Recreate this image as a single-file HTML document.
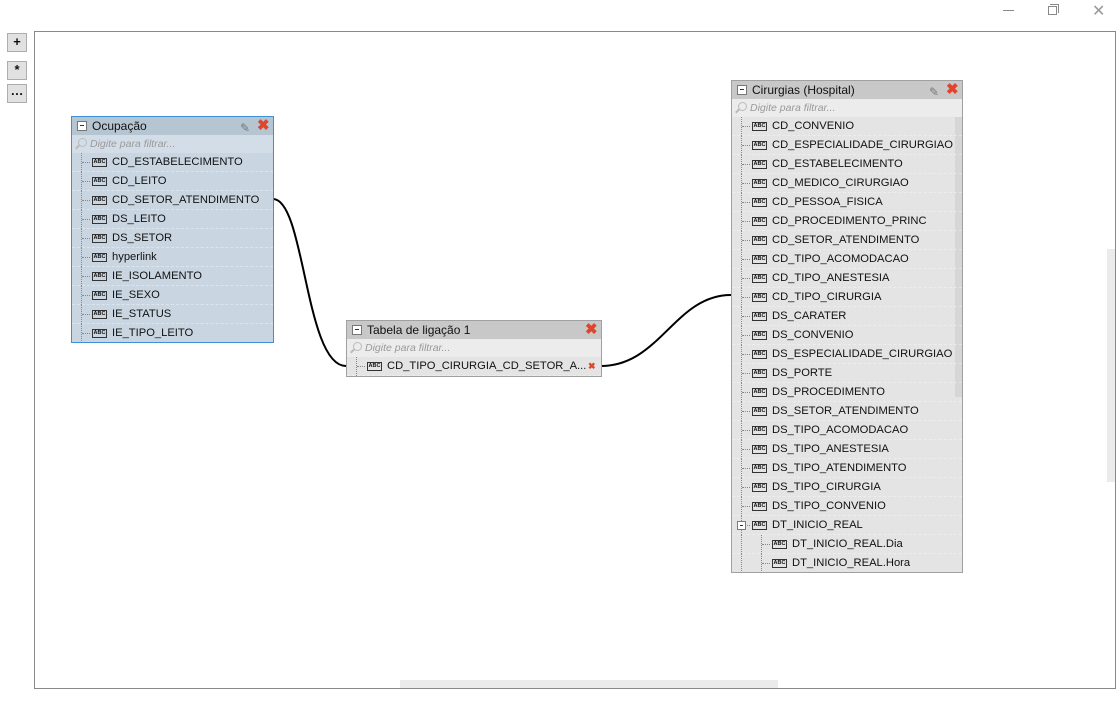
<!DOCTYPE html>
<html><head><meta charset="utf-8">
<style>
*{margin:0;padding:0;box-sizing:border-box}
body{width:1120px;height:725px;background:#fff;position:relative;overflow:hidden;font-family:"Liberation Sans",sans-serif;font-size:11px;color:#111}
.abs{position:absolute}
.btn{position:absolute;left:7px;width:20px;height:19px;border:1px solid #adadad;background:#e1e1e1;font-size:13px;text-align:center;line-height:16px;font-weight:bold}
.box{position:absolute;border:1px solid #a0a0a0;background:#e4e4e4;overflow:hidden}
.hdr{height:18px;background:#c8c8c8;position:relative;font-size:12px;line-height:18px;padding-left:20px}
.hdr .mn{position:absolute;left:5px;top:4px;width:10px;height:10px;border:1px solid #777;background:#fff}
.hdr .mn:after{content:"";position:absolute;left:2px;top:3px;width:4px;height:1px;background:#333}
.x{position:absolute;top:1px;color:#e0442a;font-weight:bold;font-size:15px;line-height:15px}
.pen{position:absolute;top:2px;color:#777;font-size:12px}
.flt{height:18px;background:#ececec;font-style:italic;color:#999;font-size:10.5px;line-height:18px;padding-left:18px;position:relative}
.flt:before{content:"";position:absolute;left:6px;top:3px;width:7px;height:7px;border:1.5px solid #bbb;border-radius:50%}
.flt:after{content:"";position:absolute;left:3px;top:11px;width:5px;height:2px;background:#bbb;transform:rotate(-45deg)}
.row{height:19px;position:relative;line-height:18px;border-bottom:1px dashed rgba(255,255,255,.35);padding-left:40px;white-space:nowrap;font-size:11.2px}
.row:before{content:"";position:absolute;left:9px;top:0;height:19px;border-left:1px dotted #888}
.row i{position:absolute;left:10px;top:9px;width:8px;border-top:1px dotted #888}
.row b{position:absolute;left:20px;top:5px;width:15px;height:9px;border:1px solid #333;font-size:5.5px;line-height:7px;text-align:center;font-weight:bold;font-style:normal}
.occ{background:#c9d6e2;border-color:#3d8fd8}
.occ .hdr{background:#b6c5d2}
.occ .flt{background:#d3dde7}
.sub{padding-left:60px}
.sub i{left:30px}
.sub b{left:40px}
.sub:after{content:"";position:absolute;left:29px;top:0;height:19px;border-left:1px dotted #888}
</style></head><body>
<div class="abs" style="left:1003px;top:10px;width:11px;border-top:1px solid #888"></div>
<div class="abs" style="left:1048px;top:6px;width:9px;height:9px;border:1px solid #888"></div>
<div class="abs" style="left:1050px;top:4px;width:9px;height:9px;border-top:1px solid #888;border-right:1px solid #888"></div>
<div class="abs" style="left:1092px;top:1px;font-size:16px;color:#999">✕</div>

<div class="btn" style="top:33px">+</div>
<div class="btn" style="top:61px">*</div>
<div class="btn" style="top:84px;line-height:12px">…</div>

<div class="abs" style="left:34px;top:31px;width:1082px;height:658px;border:1px solid #888"></div>
<div class="abs" style="left:400px;top:680px;width:378px;height:8px;background:#ebebeb"></div>
<div class="abs" style="left:1107px;top:249px;width:8px;height:233px;background:#ebebeb"></div>

<svg class="abs" style="left:0;top:0" width="1120" height="725">
<path d="M273,199 C305,199 305,366 346,366" fill="none" stroke="#000" stroke-width="2"/>
<path d="M601,366 C660,366 675,295 731,295" fill="none" stroke="#000" stroke-width="2"/>
</svg>

<div class="box occ" style="left:71px;top:116px;width:203px;height:227px">
<div class="hdr"><span class="mn"></span>Ocupação<span class="pen" style="left:168px">✎</span><span class="x" style="left:185px">✖</span></div>
<div class="flt">Digite para filtrar...</div>
<div class="row"><i></i><b>ABC</b>CD_ESTABELECIMENTO</div>
<div class="row"><i></i><b>ABC</b>CD_LEITO</div>
<div class="row"><i></i><b>ABC</b>CD_SETOR_ATENDIMENTO</div>
<div class="row"><i></i><b>ABC</b>DS_LEITO</div>
<div class="row"><i></i><b>ABC</b>DS_SETOR</div>
<div class="row"><i></i><b>ABC</b>hyperlink</div>
<div class="row"><i></i><b>ABC</b>IE_ISOLAMENTO</div>
<div class="row"><i></i><b>ABC</b>IE_SEXO</div>
<div class="row"><i></i><b>ABC</b>IE_STATUS</div>
<div class="row"><i></i><b>ABC</b>IE_TIPO_LEITO</div>
</div>

<div class="box" style="left:346px;top:320px;width:256px;height:57px">
<div class="hdr"><span class="mn"></span>Tabela de ligação 1<span class="x" style="left:238px">✖</span></div>
<div class="flt">Digite para filtrar...</div>
<div class="row"><i></i><b>ABC</b>CD_TIPO_CIRURGIA_CD_SETOR_A...<span style="position:absolute;left:241px;color:#e0442a;font-size:9px;font-weight:bold;background:#e4e4e4;width:14px">✖</span></div>
</div>

<div class="box" style="left:731px;top:80px;width:232px;height:493px">
<div class="hdr"><span class="mn"></span>Cirurgias (Hospital)<span class="pen" style="left:197px">✎</span><span class="x" style="left:214px">✖</span></div>
<div class="flt">Digite para filtrar...</div>
<div class="abs" style="left:223px;top:36px;width:8px;height:280px;background:#d6d6d6"></div>
<div class="row"><i></i><b>ABC</b>CD_CONVENIO</div>
<div class="row"><i></i><b>ABC</b>CD_ESPECIALIDADE_CIRURGIAO</div>
<div class="row"><i></i><b>ABC</b>CD_ESTABELECIMENTO</div>
<div class="row"><i></i><b>ABC</b>CD_MEDICO_CIRURGIAO</div>
<div class="row"><i></i><b>ABC</b>CD_PESSOA_FISICA</div>
<div class="row"><i></i><b>ABC</b>CD_PROCEDIMENTO_PRINC</div>
<div class="row"><i></i><b>ABC</b>CD_SETOR_ATENDIMENTO</div>
<div class="row"><i></i><b>ABC</b>CD_TIPO_ACOMODACAO</div>
<div class="row"><i></i><b>ABC</b>CD_TIPO_ANESTESIA</div>
<div class="row"><i></i><b>ABC</b>CD_TIPO_CIRURGIA</div>
<div class="row"><i></i><b>ABC</b>DS_CARATER</div>
<div class="row"><i></i><b>ABC</b>DS_CONVENIO</div>
<div class="row"><i></i><b>ABC</b>DS_ESPECIALIDADE_CIRURGIAO</div>
<div class="row"><i></i><b>ABC</b>DS_PORTE</div>
<div class="row"><i></i><b>ABC</b>DS_PROCEDIMENTO</div>
<div class="row"><i></i><b>ABC</b>DS_SETOR_ATENDIMENTO</div>
<div class="row"><i></i><b>ABC</b>DS_TIPO_ACOMODACAO</div>
<div class="row"><i></i><b>ABC</b>DS_TIPO_ANESTESIA</div>
<div class="row"><i></i><b>ABC</b>DS_TIPO_ATENDIMENTO</div>
<div class="row"><i></i><b>ABC</b>DS_TIPO_CIRURGIA</div>
<div class="row"><i></i><b>ABC</b>DS_TIPO_CONVENIO</div>
<div class="row"><i></i><span style="position:absolute;left:5px;top:5px;width:9px;height:9px;border:1px solid #5a7fc0;background:#fff"><span style="position:absolute;left:2px;top:3px;width:3px;height:1px;background:#333"></span></span><b>ABC</b>DT_INICIO_REAL</div>
<div class="row sub"><i></i><b>ABC</b>DT_INICIO_REAL.Dia</div>
<div class="row sub"><i></i><b>ABC</b>DT_INICIO_REAL.Hora</div>
</div>
</body></html>
